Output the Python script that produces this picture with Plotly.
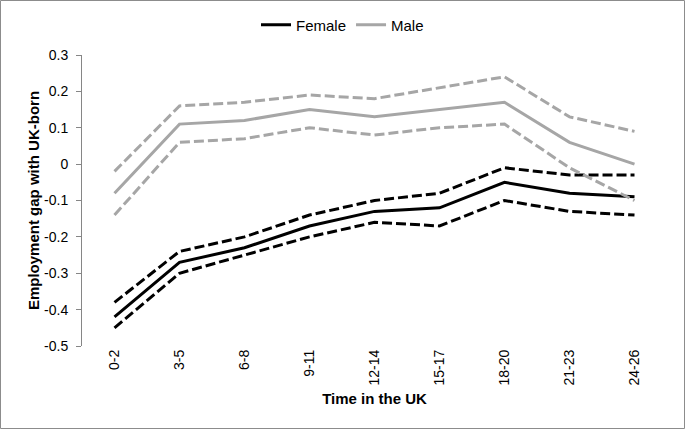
import plotly.graph_objects as go

categories = ["0-2", "3-5", "6-8", "9-11", "12-14", "15-17", "18-20", "21-23", "24-26"]
female = [-0.42, -0.27, -0.23, -0.17, -0.13, -0.12, -0.05, -0.08, -0.09]
female_upper = [-0.38, -0.24, -0.20, -0.14, -0.10, -0.08, -0.01, -0.03, -0.03]
female_lower = [-0.45, -0.30, -0.25, -0.20, -0.16, -0.17, -0.10, -0.13, -0.14]
male = [-0.08, 0.11, 0.12, 0.15, 0.13, 0.15, 0.17, 0.06, 0.00]
male_upper = [-0.02, 0.16, 0.17, 0.19, 0.18, 0.21, 0.24, 0.13, 0.09]
male_lower = [-0.14, 0.06, 0.07, 0.10, 0.08, 0.10, 0.11, -0.01, -0.10]
y_tickvals = [0.3, 0.2, 0.1, 0, -0.1, -0.2, -0.3, -0.4, -0.5]
y_ticktext = ["0.3", "0.2", "0.1", "0", "-0.1", "-0.2", "-0.3", "-0.4", "-0.5"]

W, H = 685, 429
ML, MR, MT, MB = 82, 18, 55, 83
YMIN, YMAX = -0.5, 0.3
FONT = "Liberation Sans, Arial, sans-serif"
GRAY = "#A6A6A6"
AXIS = "#868686"
DASH = "10px,4px"

fig = go.Figure()
series = [
    ("Female", female, "black", "solid", True),
    ("Female upper", female_upper, "black", DASH, False),
    ("Female lower", female_lower, "black", DASH, False),
    ("Male", male, GRAY, "solid", True),
    ("Male upper", male_upper, GRAY, DASH, False),
    ("Male lower", male_lower, GRAY, DASH, False),
]
for name, vals, color, dash, show in series:
    fig.add_trace(go.Scatter(
        x=categories, y=vals, mode="lines", name=name, showlegend=show,
        line=dict(color=color, width=3, dash=dash),
    ))

pw = W - ML - MR
ph = H - MT - MB
fig.add_shape(
    type="rect", xref="paper", yref="paper",
    x0=(0.5 - ML) / pw, x1=(W - 0.5 - ML) / pw,
    y0=(-(MB - 0.5)) / ph, y1=(ph + MT - 0.5) / ph,
    line=dict(color="#8C8C8C", width=1), fillcolor="rgba(0,0,0,0)", layer="below",
)

fig.update_layout(
    width=W, height=H,
    margin=dict(l=ML, r=MR, t=MT, b=MB, autoexpand=False),
    paper_bgcolor="white", plot_bgcolor="white",
    font=dict(family=FONT, size=13, color="black"),
    showlegend=True,
    legend=dict(
        orientation="h", x=(W / 2 - ML) / pw, xanchor="center",
        y=1 + (MT - 25) / ph, yanchor="middle",
        font=dict(size=15), itemwidth=30, tracegroupgap=0,
    ),
    xaxis=dict(
        type="category", categoryorder="array", categoryarray=categories,
        range=[-0.5, len(categories) - 0.5], automargin=False,
        showline=False, showgrid=False, zeroline=False, ticks="",
        tickangle=-90, tickfont=dict(size=14),
        ticklabelstandoff=0,
        title=dict(text="<b>Time in the UK</b>", font=dict(size=15), standoff=8),
    ),
    xaxis2=dict(
        overlaying="x", anchor="free", position=(0 - YMIN) / (YMAX - YMIN),
        range=[-0.5, len(categories) - 0.5], type="linear", automargin=False,
        tick0=-0.5, dtick=1, showticklabels=False,
        showline=True, linecolor=AXIS, linewidth=1,
        ticks="outside", ticklen=5, tickcolor=AXIS, tickwidth=1,
        showgrid=False, zeroline=False,
    ),
    yaxis=dict(
        range=[YMIN, YMAX], tickvals=y_tickvals, ticktext=y_ticktext, automargin=False,
        showline=True, linecolor=AXIS, linewidth=1,
        ticks="outside", ticklen=5, tickcolor=AXIS, tickwidth=1,
        showgrid=False, zeroline=False, tickfont=dict(size=14),
        ticklabelstandoff=5,
        title=dict(text="<b>Employment gap with UK-born</b>", font=dict(size=15), standoff=0),
    ),
)

fig.write_html("out.html", config={"displayModeBar": False},
               post_script="document.body.style.margin='0';")
